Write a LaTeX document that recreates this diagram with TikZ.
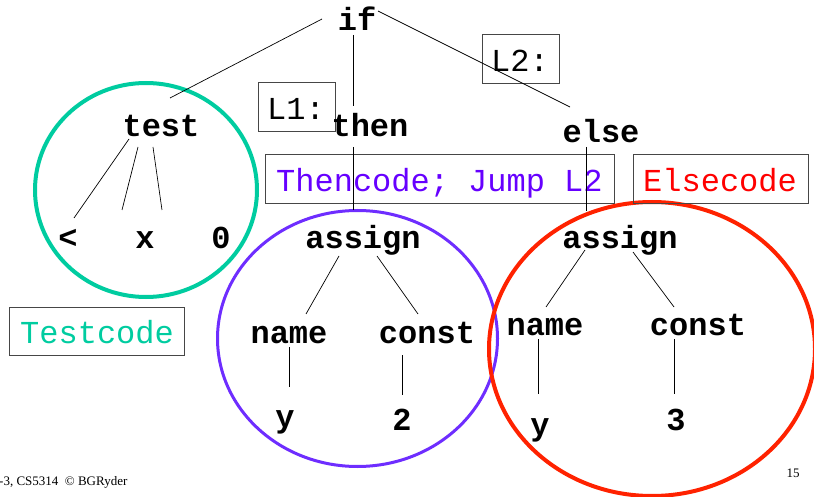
\documentclass[tikz,border=0pt]{standalone}
\usepackage{fontspec}
\setmainfont{Liberation Serif}
\newfontfamily\codefont{Liberation Mono}
\usetikzlibrary{calc}
\definecolor{tealgreen}{RGB}{0,204,160}
\definecolor{violetc}{RGB}{110,45,255}
\definecolor{violett}{RGB}{102,0,255}
\definecolor{redc}{RGB}{255,34,0}
\definecolor{redt}{RGB}{255,0,0}
\definecolor{boxgray}{RGB}{70,70,70}
\begin{document}
\begin{tikzpicture}[x=1pt,y=-1pt,
  tn/.style={font=\codefont\fontsize{32}{32}\selectfont\bfseries, anchor=base, inner sep=0pt},
  codetext/.style={font=\codefont\fontsize{32}{32}\selectfont, inner sep=0pt, anchor=base west},
  framebox/.style={draw=boxgray, line width=0.9pt},
  edge/.style={line width=0.7pt},
  foot/.style={font=\fontsize{13}{13}\selectfont, anchor=base, inner sep=0pt}]
\useasboundingbox (0,0) rectangle (814,497);

% grouping ellipses around the sub-trees
\draw[tealgreen, line width=4pt] (146,190) ellipse [x radius=111, y radius=107];
\draw[violetc, line width=3pt] (357.5,338.5) ellipse [x radius=140, y radius=128];
\draw[redc, line width=4pt] (652,349) ellipse [x radius=163, y radius=147];

% labels and generated code boxes
\draw[framebox] (258,82) rectangle (335,131);
\node[codetext] (l1) at (267,120) {L1:};
\draw[framebox] (482,34) rectangle (559,83);
\node[codetext] (l2) at (491,72) {L2:};
\draw[framebox] (265,154) rectangle (614,203);
\node[codetext, text=violett] (thencode) at (276,192) {Thencode; Jump L2};
\draw[framebox] (633,154) rectangle (808,203);
\node[codetext, text=redt] (elsecode) at (643,192) {Elsecode};
\draw[framebox] (9,307) rectangle (184,355);
\node[codetext, text=tealgreen] (testcode) at (20,343) {Testcode};

% tree nodes
\node[tn] (ifn) at (357,31) {if};
\node[tn] (test) at (161,137) {test};
\node[tn] (then) at (370,137) {then};
\node[tn] (else) at (601,143) {else};
\node[tn] (lt) at (68,248) {<};
\node[tn] (xv) at (145,248) {x};
\node[tn] (zero) at (221,248) {0};
\node[tn] (asg1) at (363,248) {assign};
\node[tn] (asg2) at (620,248) {assign};
\node[tn] (name1) at (289,343) {name};
\node[tn] (const1) at (427,343) {const};
\node[tn] (name2) at (545,335) {name};
\node[tn] (const2) at (698,335) {const};
\node[tn] (y1) at (285,427) {y};
\node[tn] (two) at (402,430) {2};
\node[tn] (y2) at (540,435) {y};
\node[tn] (three) at (676,430) {3};

% tree edges, with ends placed relative to each label's baseline
\draw[edge] ($(ifn.base)+(-35,-12)$) -- ($(test.base)+(9,-39)$);
\draw[edge] ($(ifn.base)+(-4,4)$) -- ($(then.base)+(-17,-31)$);
\draw[edge] ($(ifn.base)+(21,-20)$) -- ($(else.base)+(-31,-36)$);
\draw[edge] ($(then.base)+(-17,10)$) -- ($(asg1.base)+(-10,-38)$);
\draw[edge] ($(else.base)+(-15,4)$) -- ($(asg2.base)+(-34,-37)$);
\draw[edge] ($(test.base)+(-32,2)$) -- ($(lt.base)+(6,-30)$);
\draw[edge] ($(test.base)+(-23,10)$) -- ($(xv.base)+(-23,-38)$);
\draw[edge] ($(test.base)+(-8,10)$) -- ($(zero.base)+(-59,-38)$);
\draw[edge] ($(asg1.base)+(-24,8)$) -- ($(name1.base)+(17,-29)$);
\draw[edge] ($(asg1.base)+(14,8)$) -- ($(const1.base)+(-9,-29)$);
\draw[edge] ($(asg2.base)+(-35,2)$) -- ($(name2.base)+(1,-28)$);
\draw[edge] ($(asg2.base)+(13,4)$) -- ($(const2.base)+(-24,-28)$);
\draw[edge] ($(name1.base)+(0,4)$) -- ($(y1.base)+(4,-40)$);
\draw[edge] ($(const1.base)+(-25,12)$) -- ($(two.base)+(0,-35)$);
\draw[edge] ($(name2.base)+(-7,4)$) -- ($(y2.base)+(-2,-41)$);
\draw[edge] ($(const2.base)+(-24,4)$) -- ($(three.base)+(-2,-36)$);

% slide footer
\node[foot, anchor=base west] (footer) at (-1,485) {-3, CS5314\ \ \textcopyright\ BGRyder};
\node[foot] (pageno) at (793,477) {15};
\end{tikzpicture}
\end{document}
